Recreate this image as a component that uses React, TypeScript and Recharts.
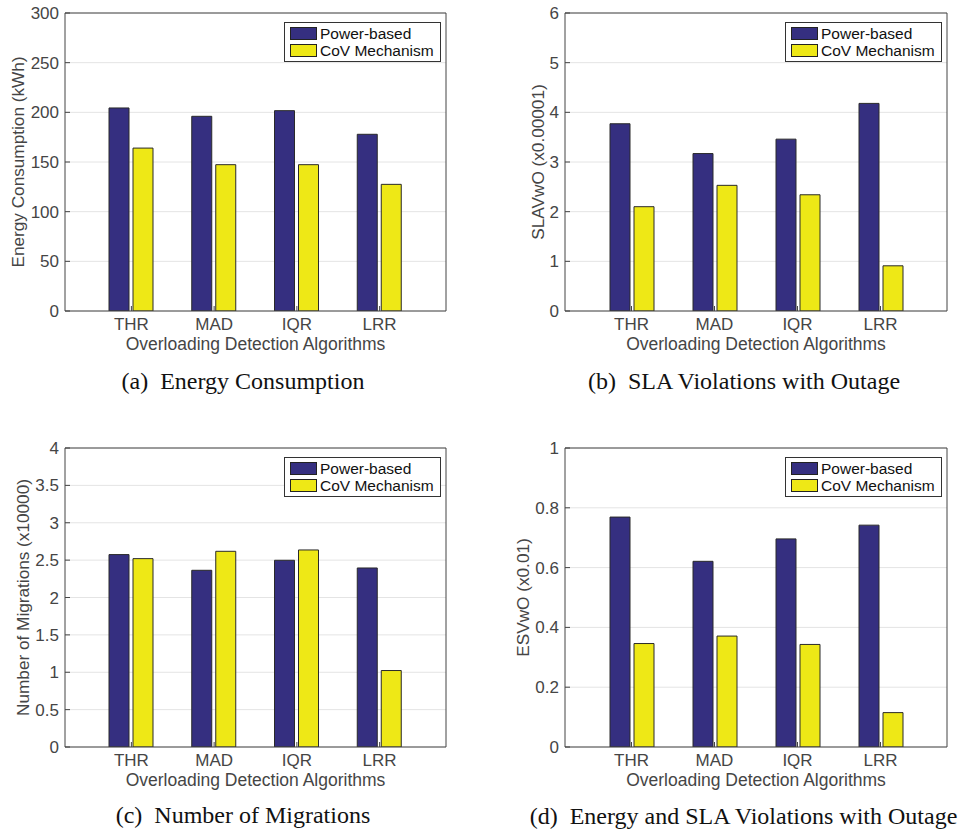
import {
  BarChart,
  Bar,
  XAxis,
  YAxis,
  CartesianGrid,
  Legend,
  Label,
} from 'recharts';

const algorithms = ['THR', 'MAD', 'IQR', 'LRR'];

const energyPower = [204.4, 196, 201.7, 177.9];
const energyCov = [164, 147.3, 147.3, 127.5];
const energyTicks = [0, 50, 100, 150, 200, 250, 300];

const slaPower = [3.77, 3.17, 3.46, 4.18];
const slaCov = [2.1, 2.53, 2.34, 0.91];
const slaTicks = [0, 1, 2, 3, 4, 5, 6];

const migPower = [2.574, 2.364, 2.498, 2.395];
const migCov = [2.52, 2.618, 2.636, 1.023];
const migTicks = [0, 0.5, 1, 1.5, 2, 2.5, 3, 3.5, 4];

const esvPower = [0.769, 0.621, 0.696, 0.742];
const esvCov = [0.346, 0.371, 0.343, 0.115];
const esvTicks = [0, 0.2, 0.4, 0.6, 0.8, 1];

const seriesNames = ['Power-based', 'CoV Mechanism'];

const BLUE = '#352f80';
const YELLOW = '#eee816';
const AXIS = '#454545';
const TEXT = '#454545';
const FONT = '"Liberation Sans", Arial, Helvetica, sans-serif';

const toRows = (power: number[], cov: number[]) =>
  algorithms.map((name, i) => ({ name, power: power[i], cov: cov[i] }));

const SwatchLegend = () => (
  <div
    style={{
      border: '1px solid #333',
      background: 'white',
      padding: '2px 6px 2px 5px',
      fontFamily: FONT,
      fontSize: 15.5,
      color: '#111',
      lineHeight: '17px',
    }}
  >
    {[BLUE, YELLOW].map((c, i) => (
      <div key={c} style={{ display: 'flex', alignItems: 'center', whiteSpace: 'nowrap' }}>
        <span
          style={{
            display: 'inline-block',
            width: 25,
            height: 11,
            background: c,
            border: '1px solid #222',
            marginRight: 3,
          }}
        />
        {seriesNames[i]}
      </div>
    ))}
  </div>
);

interface PanelProps {
  left: number;
  top: number;
  width: number;
  height: number;
  margin: { top: number; right: number; bottom: number; left: number };
  yAxisWidth: number;
  yLabel: string;
  yLabelX: number;
  ticks: number[];
  power: number[];
  cov: number[];
  legendLeft: number;
  legendTop: number;
  caption: string;
  captionCenter: number;
  captionTop: number;
}

const Panel = (p: PanelProps) => {
  const max = p.ticks[p.ticks.length - 1];
  const tickStyle = { fontSize: 17, fill: TEXT, fontFamily: FONT };
  return (
    <>
      <div style={{ position: 'absolute', left: p.left, top: p.top }}>
        <BarChart
          width={p.width}
          height={p.height}
          data={toRows(p.power, p.cov)}
          margin={p.margin}
          barSize={20}
          barGap={4}
        >
          <CartesianGrid horizontal vertical={false} stroke="#e4e4e4" />
          <XAxis
            dataKey="name"
            height={50}
            padding={{ left: 25, right: 25 }}
            tick={tickStyle}
            tickSize={-5}
            tickMargin={12}
            stroke={AXIS}
            interval={0}
          >
            <Label
              value="Overloading Detection Algorithms"
              position="insideBottom"
              offset={11}
              style={{ fontSize: 17.5, fill: TEXT, fontFamily: FONT }}
            />
          </XAxis>
          <XAxis
            xAxisId="top"
            dataKey="name"
            orientation="top"
            height={1}
            padding={{ left: 25, right: 25 }}
            tick={false}
            tickSize={-5}
            stroke={AXIS}
            interval={0}
          />
          <YAxis
            width={p.yAxisWidth}
            domain={[0, max]}
            ticks={p.ticks}
            tick={tickStyle}
            tickSize={-5}
            tickMargin={11}
            stroke={AXIS}
            allowDataOverflow
          >
            <Label
              content={({ viewBox }: any) => {
                const cy = viewBox.y + viewBox.height / 2;
                return (
                  <text
                    x={p.yLabelX}
                    y={cy}
                    transform={`rotate(-90, ${p.yLabelX}, ${cy})`}
                    textAnchor="middle"
                    dominantBaseline="central"
                    style={{ fontSize: 17.2, fill: TEXT, fontFamily: FONT }}
                  >
                    {p.yLabel}
                  </text>
                );
              }}
            />
          </YAxis>
          <YAxis
            yAxisId="right"
            orientation="right"
            width={1}
            domain={[0, max]}
            ticks={p.ticks}
            tick={false}
            tickSize={-5}
            stroke={AXIS}
          />
          <Legend
            layout="vertical"
            align="center"
            verticalAlign="middle"
            content={() => <SwatchLegend />}
            wrapperStyle={{ left: p.legendLeft, top: p.legendTop, width: 'auto' }}
          />
          <Bar
            dataKey="power"
            name={seriesNames[0]}
            fill={BLUE}
            stroke="#2a2a2a"
            strokeWidth={1}
            isAnimationActive={false}
          />
          <Bar
            dataKey="cov"
            name={seriesNames[1]}
            fill={YELLOW}
            stroke="#2a2a2a"
            strokeWidth={1}
            isAnimationActive={false}
          />
        </BarChart>
      </div>
      <div
        style={{
          position: 'absolute',
          left: p.left + p.captionCenter - 250,
          width: 500,
          top: p.top + p.captionTop,
          textAlign: 'center',
          fontFamily: '"Liberation Serif", "Times New Roman", serif',
          fontSize: 24,
          color: '#111',
          whiteSpace: 'nowrap',
        }}
      >
        {p.caption}
      </div>
    </>
  );
};

export default function App() {
  return (
    <div
      style={{
        position: 'absolute',
        left: 0,
        top: 0,
        width: 962,
        height: 835,
        background: 'white',
        overflow: 'hidden',
      }}
    >
      <Panel
        left={0}
        top={0}
        width={481}
        height={400}
        margin={{ top: 12, right: 34, bottom: 39, left: 0 }}
        yAxisWidth={65}
        yLabel="Energy Consumption (kWh)"
        yLabelX={18}
        ticks={energyTicks}
        power={energyPower}
        cov={energyCov}
        legendLeft={284}
        legendTop={22}
        caption={'(a)\u2002Energy Consumption'}
        captionCenter={243}
        captionTop={368}
      />
      <Panel
        left={480}
        top={0}
        width={482}
        height={400}
        margin={{ top: 12, right: 14, bottom: 39, left: 0 }}
        yAxisWidth={85}
        yLabel="SLAVwO (x0.00001)"
        yLabelX={58}
        ticks={slaTicks}
        power={slaPower}
        cov={slaCov}
        legendLeft={305}
        legendTop={22}
        caption={'(b)\u2002SLA Violations with Outage'}
        captionCenter={264}
        captionTop={368}
      />
      <Panel
        left={0}
        top={430}
        width={481}
        height={405}
        margin={{ top: 17, right: 34, bottom: 38, left: 0 }}
        yAxisWidth={65}
        yLabel="Number of Migrations (x10000)"
        yLabelX={23}
        ticks={migTicks}
        power={migPower}
        cov={migCov}
        legendLeft={284}
        legendTop={27}
        caption={'(c)\u2002Number of Migrations'}
        captionCenter={243}
        captionTop={372}
      />
      <Panel
        left={480}
        top={430}
        width={482}
        height={405}
        margin={{ top: 17, right: 14, bottom: 38, left: 0 }}
        yAxisWidth={85}
        yLabel="ESVwO (x0.01)"
        yLabelX={43}
        ticks={esvTicks}
        power={esvPower}
        cov={esvCov}
        legendLeft={305}
        legendTop={27}
        caption={'(d)\u2002Energy and SLA Violations with Outage'}
        captionCenter={263.5}
        captionTop={373}
      />
    </div>
  );
}
